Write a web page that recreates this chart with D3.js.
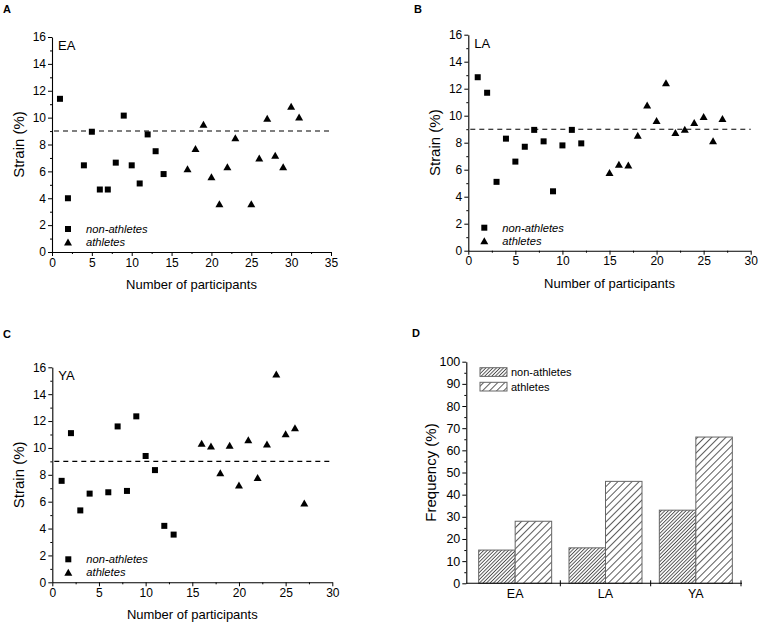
<!DOCTYPE html>
<html><head><meta charset="utf-8">
<script src="https://cdn.jsdelivr.net/npm/d3@7"></script>
<style>
html,body{margin:0;padding:0;background:#fff;}
svg{display:block;font-family:"Liberation Sans",Arial,sans-serif;}
</style></head>
<body>
<svg id="chart" width="758" height="624"></svg>
<script>
// ---------- DATA ----------
const eaNonX = [1,2,4,5,6,7,8,9,10,11,12,13,14];
const eaNonY = [11.4,4.0,6.45,8.95,4.65,4.65,6.65,10.15,6.45,5.1,8.75,7.5,5.8];
const eaAthX = [17,18,19,20,21,22,23,25,26,27,28,29,30,31];
const eaAthY = [6.2,7.7,9.5,5.6,3.6,6.35,8.5,3.6,7.0,9.95,7.2,6.35,10.85,10.05];

const laNonX = [1,2,3,4,5,6,7,8,9,10,11,12];
const laNonY = [12.85,11.7,5.1,8.3,6.6,7.7,8.95,8.1,4.4,7.8,8.95,7.95];
const laAthX = [15,16,17,18,19,20,21,22,23,24,25,26,27];
const laAthY = [5.8,6.4,6.35,8.55,10.8,9.65,12.45,8.75,9.0,9.5,9.95,8.15,9.8];

const yaNonX = [1,2,3,4,6,7,8,9,10,11,12,13];
const yaNonY = [7.55,11.1,5.35,6.6,6.7,11.6,6.8,12.35,9.4,8.35,4.2,3.55];
const yaAthX = [16,17,18,19,20,21,22,23,24,25,26,27];
const yaAthY = [10.35,10.15,8.15,10.2,7.25,10.6,7.8,10.3,15.5,11.05,11.5,5.9];

const strainTicks = [0,2,4,6,8,10,12,14,16];
const threshold = 9;

const groups = ["EA","LA","YA"];
const freqNon = [15,16,33];
const freqAth = [28,46,66];
const freqTicks = [0,10,20,30,40,50,60,70,80,90,100];

const seriesNames = ["non-athletes","athletes"];

// ---------- DRAW ----------
const svg = d3.select("#chart");
const defs = svg.append("defs");
function hatch(id, spacing, color, w){
  const p = defs.append("pattern").attr("id",id).attr("patternUnits","userSpaceOnUse")
    .attr("width",spacing).attr("height",spacing).attr("patternTransform","rotate(45)");
  p.append("rect").attr("width",spacing).attr("height",spacing).attr("fill","#fff");
  p.append("line").attr("x1",spacing/2).attr("x2",spacing/2).attr("y1",0).attr("y2",spacing)
    .attr("stroke",color).attr("stroke-width",w);
}
hatch("hNon", 2.5, "#4a4a4a", 0.9);
hatch("hAth", 5.0, "#4a4a4a", 0.9);

function triPath(cx, cy, w, h){
  return `M${cx},${cy-h/2}L${cx+w/2},${cy+h/2}L${cx-w/2},${cy+h/2}Z`;
}

function styleAxis(g, fs){
  g.selectAll("path.domain").attr("stroke","#000").attr("stroke-width",1.1);
  g.selectAll(".tick line").attr("stroke","#000").attr("stroke-width",1);
  g.selectAll(".tick text").attr("font-size",fs).attr("fill","#000")
    .attr("font-family","Liberation Sans, Arial, sans-serif");
}

function scatterPanel(cfg){
  const x = d3.scaleLinear().domain([0,cfg.xmax]).range([cfg.left,cfg.right]);
  const y = d3.scaleLinear().domain([0,16]).range([cfg.bottom,cfg.top]);
  const g = svg.append("g");

  // minor ticks
  const ym = g.append("g").attr("transform",`translate(${cfg.left},0)`)
    .call(d3.axisLeft(y).tickValues(d3.range(1,16,2)).tickSize(2).tickFormat(""));
  ym.select("path.domain").remove(); styleAxis(ym,12);
  const xm = g.append("g").attr("transform",`translate(0,${cfg.bottom})`)
    .call(d3.axisBottom(x).tickValues(d3.range(2.5,cfg.xmax,5)).tickSize(2).tickFormat(""));
  xm.select("path.domain").remove(); styleAxis(xm,12);

  const ya = g.append("g").attr("transform",`translate(${cfg.left},0)`)
    .call(d3.axisLeft(y).tickValues(strainTicks).tickSize(4).tickSizeOuter(0).tickPadding(2).tickFormat(d3.format("d")));
  styleAxis(ya,12);
  const xa = g.append("g").attr("transform",`translate(0,${cfg.bottom})`)
    .call(d3.axisBottom(x).tickValues(d3.range(0,cfg.xmax+1,5)).tickSize(4).tickSizeOuter(0).tickPadding(2).tickFormat(d3.format("d")));
  styleAxis(xa,12);

  // threshold
  g.append("line").attr("x1",x(0)+2).attr("x2",x(cfg.xmax)).attr("y1",y(threshold)).attr("y2",y(threshold))
    .attr("stroke","#000").attr("stroke-width",1.1).attr("stroke-dasharray","5,4");

  // points
  g.selectAll("rect.pt").data(cfg.nonX.map((v,i)=>[v,cfg.nonY[i]])).join("rect")
    .attr("x",d=>x(d[0])-3).attr("y",d=>y(d[1])-3).attr("width",6).attr("height",6).attr("fill","#000");
  g.selectAll("path.tri").data(cfg.athX.map((v,i)=>[v,cfg.athY[i]])).join("path")
    .attr("d",d=>triPath(x(d[0]),y(d[1]),8,7)).attr("fill","#000");

  // group label
  g.append("text").attr("x",cfg.left+6).attr("y",cfg.top+13).attr("font-size",13).text(cfg.label);

  // legend
  const lx = cfg.left+16;
  g.append("rect").attr("x",lx-3).attr("y",cfg.bottom-23-3).attr("width",6).attr("height",6).attr("fill","#000");
  g.append("path").attr("d",triPath(lx,cfg.bottom-10,8,7)).attr("fill","#000");
  g.append("text").attr("x",lx+18).attr("y",cfg.bottom-19).attr("font-size",11.2).attr("font-style","italic").text(seriesNames[0]);
  g.append("text").attr("x",lx+18).attr("y",cfg.bottom-6).attr("font-size",11.2).attr("font-style","italic").text(seriesNames[1]);

  // axis titles
  g.append("text").attr("x",(cfg.left+cfg.right)/2).attr("y",cfg.bottom+37)
    .attr("text-anchor","middle").attr("font-size",13).text("Number of participants");
  g.append("text").attr("transform",`translate(${cfg.left-28},${(cfg.top+cfg.bottom)/2}) rotate(-90)`)
    .attr("text-anchor","middle").attr("font-size",15).text("Strain (%)");

  // panel letter
  svg.append("text").attr("x",cfg.px).attr("y",cfg.py).attr("font-size",11).attr("font-weight","bold").text(cfg.panel);
}

scatterPanel({panel:"A",px:3,py:13,label:"EA",left:52,right:331,top:37,bottom:252,xmax:35,
  nonX:eaNonX,nonY:eaNonY,athX:eaAthX,athY:eaAthY});
scatterPanel({panel:"B",px:414,py:13,label:"LA",left:468.3,right:750.7,top:34.7,bottom:250.7,xmax:30,
  nonX:laNonX,nonY:laNonY,athX:laAthX,athY:laAthY});
scatterPanel({panel:"C",px:3,py:338,label:"YA",left:52.3,right:332.3,top:367.3,bottom:582.3,xmax:30,
  nonX:yaNonX,nonY:yaNonY,athX:yaAthX,athY:yaAthY});

// ---------- Panel D ----------
(function(){
  const left=466.3, right=742, top=361.7, bottom=583.3;
  const y = d3.scaleLinear().domain([0,100]).range([bottom,top]);
  const x = d3.scalePoint().domain(groups).range([470,741]).padding(0.5);
  const step = x.step();
  const bw = 36.5;
  const g = svg.append("g");

  const ym = g.append("g").attr("transform",`translate(${left},0)`)
    .call(d3.axisLeft(y).tickValues(d3.range(5,100,10)).tickSize(2).tickFormat(""));
  ym.select("path.domain").remove(); styleAxis(ym,12);
  const ya = g.append("g").attr("transform",`translate(${left},0)`)
    .call(d3.axisLeft(y).tickValues(freqTicks).tickSize(4).tickSizeOuter(0).tickPadding(2));
  styleAxis(ya,12.5);

  // bars
  groups.forEach((c,i)=>{
    g.append("rect").attr("x",x(c)-bw).attr("y",y(freqNon[i])).attr("width",bw).attr("height",y(0)-y(freqNon[i]))
      .attr("fill","url(#hNon)").attr("stroke","#666").attr("stroke-width",1);
    g.append("rect").attr("x",x(c)).attr("y",y(freqAth[i])).attr("width",bw).attr("height",y(0)-y(freqAth[i]))
      .attr("fill","url(#hAth)").attr("stroke","#666").attr("stroke-width",1);
  });

  // x axis
  g.append("line").attr("x1",left).attr("x2",right).attr("y1",bottom).attr("y2",bottom).attr("stroke","#000").attr("stroke-width",1.1);
  groups.forEach(c=>{
    const bx = x(c)+step/2;
    g.append("line").attr("x1",bx).attr("x2",bx).attr("y1",bottom-3).attr("y2",bottom+3).attr("stroke","#000").attr("stroke-width",1);
    g.append("text").attr("x",x(c)).attr("y",bottom+15).attr("text-anchor","middle").attr("font-size",12.5).text(c);
  });

  // legend
  const lg = [["hNon",seriesNames[0],367.7],["hAth",seriesNames[1],382.3]];
  lg.forEach(d=>{
    g.append("rect").attr("x",480).attr("y",d[2]).attr("width",27).attr("height",8.7)
      .attr("fill",`url(#${d[0]})`).attr("stroke","#666").attr("stroke-width",1);
    g.append("text").attr("x",511).attr("y",d[2]+8.3).attr("font-size",11).text(d[1]);
  });

  g.append("text").attr("transform",`translate(${left-30},${(top+bottom)/2}) rotate(-90)`)
    .attr("text-anchor","middle").attr("font-size",15).text("Frequency (%)");
  svg.append("text").attr("x",412).attr("y",337).attr("font-size",11).attr("font-weight","bold").text("D");
})();
</script>
</body></html>
